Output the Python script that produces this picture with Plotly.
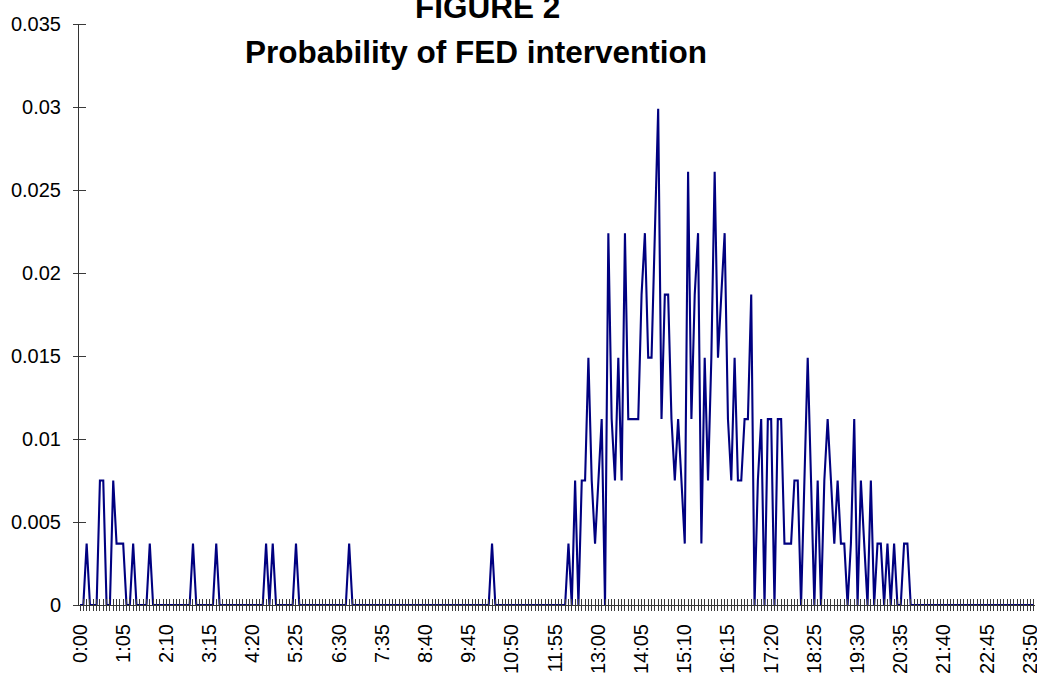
import plotly.graph_objects as go

# 5-minute time slots across the day (categories)
times = [f"{m // 60}:{m % 60:02d}" for m in range(0, 24 * 60, 5)]

# labelled categories on the x axis
tick_labels = ["0:00", "1:05", "2:10", "3:15", "4:20", "5:25", "6:30", "7:35",
               "8:40", "9:45", "10:50", "11:55", "13:00", "14:05", "15:10",
               "16:15", "17:20", "18:25", "19:30", "20:35", "21:40", "22:45",
               "23:50"]

y_tick_vals = [0, 0.005, 0.01, 0.015, 0.02, 0.025, 0.03, 0.035]
y_tick_text = ["0", "0.005", "0.01", "0.015", "0.02", "0.025", "0.03", "0.035"]

# probability of FED intervention per 5-minute slot (12 slots per hour row)
probability = [
    0, 0, 0.0037, 0, 0, 0, 0.0075, 0.0075, 0, 0, 0.0075, 0.0037,          # 0h
    0.0037, 0.0037, 0, 0, 0.0037, 0, 0, 0, 0, 0.0037, 0, 0,              # 1h
    0, 0, 0, 0, 0, 0, 0, 0, 0, 0, 0.0037, 0,                             # 2h
    0, 0, 0, 0, 0, 0.0037, 0, 0, 0, 0, 0, 0,                             # 3h
    0, 0, 0, 0, 0, 0, 0, 0, 0.0037, 0, 0.0037, 0,                        # 4h
    0, 0, 0, 0, 0, 0.0037, 0, 0, 0, 0, 0, 0,                             # 5h
    0, 0, 0, 0, 0, 0, 0, 0, 0, 0.0037, 0, 0,                             # 6h
    0, 0, 0, 0, 0, 0, 0, 0, 0, 0, 0, 0,                                  # 7h
    0, 0, 0, 0, 0, 0, 0, 0, 0, 0, 0, 0,                                  # 8h
    0, 0, 0, 0, 0, 0, 0, 0, 0, 0, 0, 0,                                  # 9h
    0, 0, 0, 0, 0.0037, 0, 0, 0, 0, 0, 0, 0,                             # 10h
    0, 0, 0, 0, 0, 0, 0, 0, 0, 0, 0, 0,                                  # 11h
    0, 0, 0, 0.0037, 0, 0.0075, 0, 0.0075, 0.0075, 0.0149, 0.0075, 0.0037,  # 12h
    0.0075, 0.0112, 0, 0.0224, 0.0112, 0.0075, 0.0149, 0.0075, 0.0224, 0.0112, 0.0112, 0.0112,  # 13h
    0.0112, 0.0187, 0.0224, 0.0149, 0.0149, 0.0224, 0.0299, 0.0112, 0.0187, 0.0187, 0.0112, 0.0075,  # 14h
    0.0112, 0.0075, 0.0037, 0.0261, 0.0112, 0.0187, 0.0224, 0.0037, 0.0149, 0.0075, 0.0149, 0.0261,  # 15h
    0.0149, 0.0187, 0.0224, 0.0112, 0.0075, 0.0149, 0.0075, 0.0075, 0.0112, 0.0112, 0.0187, 0,  # 16h
    0.0075, 0.0112, 0, 0.0112, 0.0112, 0, 0.0112, 0.0112, 0.0037, 0.0037, 0.0037, 0.0075,  # 17h
    0.0075, 0, 0.0075, 0.0149, 0.0075, 0, 0.0075, 0, 0.0075, 0.0112, 0.0075, 0.0037,  # 18h
    0.0075, 0.0037, 0.0037, 0, 0.0037, 0.0112, 0, 0.0075, 0.0037, 0, 0.0075, 0,  # 19h
    0.0037, 0.0037, 0, 0.0037, 0, 0.0037, 0, 0, 0.0037, 0.0037, 0, 0,    # 20h
    0, 0, 0, 0, 0, 0, 0, 0, 0, 0, 0, 0,                                  # 21h
    0, 0, 0, 0, 0, 0, 0, 0, 0, 0, 0, 0,                                  # 22h
    0, 0, 0, 0, 0, 0, 0, 0, 0, 0, 0, 0,                                  # 23h
]

x_tick_text = [t if t in tick_labels else "" for t in times]
x_range = [-0.3, len(times) - 0.6]

FONT = "Liberation Sans, Arial, sans-serif"
AXIS_COLOR = "#333333"
TICK_COLOR = "#3a3a3a"

fig = go.Figure()
fig.add_trace(go.Scatter(
    x=times, y=probability, mode="lines",
    line=dict(color="#000080", width=2.1),
    showlegend=False, hoverinfo="x+y",
))
# empty helper trace so that the overlaid axis carrying the inner tick marks is drawn
fig.add_trace(go.Scatter(x=[None], y=[None], xaxis="x2", yaxis="y", mode="lines",
                         showlegend=False, hoverinfo="skip"))

fig.update_layout(
    template="none",
    showlegend=False,
    width=1037, height=680, autosize=False,
    margin=dict(l=79, r=2, t=24, b=75, pad=0),
    paper_bgcolor="white", plot_bgcolor="white",
    font=dict(family=FONT, size=20, color="black"),
    xaxis=dict(
        type="category", categoryorder="array", categoryarray=times,
        range=x_range, tickmode="array", tickvals=times, ticktext=x_tick_text,
        tickangle=-90, ticks="outside", ticklen=5, tickwidth=1,
        tickcolor=TICK_COLOR, showline=True, linecolor=AXIS_COLOR, linewidth=1,
        showgrid=False, zeroline=False, ticklabelstandoff=5, automargin=False,
        tickfont=dict(family=FONT, size=20, color="black"),
    ),
    xaxis2=dict(
        overlaying="x", anchor="y", side="bottom", type="linear",
        range=x_range, tickmode="linear", tick0=0, dtick=1,
        ticks="inside", ticklen=6, tickwidth=1, tickcolor=TICK_COLOR,
        showticklabels=False, showgrid=False, zeroline=False, showline=False,
        automargin=False,
    ),
    yaxis=dict(
        range=[0, 0.035], tickmode="array", tickvals=y_tick_vals,
        ticktext=y_tick_text, ticks="outside", ticklen=5, tickwidth=1,
        tickcolor=TICK_COLOR, showline=True, linecolor=AXIS_COLOR, linewidth=1,
        showgrid=False, zeroline=False, ticklabelstandoff=8, automargin=False,
        tickfont=dict(family=FONT, size=20, color="black"),
        minor=dict(ticks="inside", ticklen=7, tickwidth=1, tickcolor=TICK_COLOR,
                   tickmode="array", tickvals=y_tick_vals, showgrid=False),
    ),
    annotations=[
        dict(text="<b>FIGURE 2</b>", xref="paper", yref="paper",
             x=(487.5 - 79) / 956, y=(605 - 7) / 581, xanchor="center",
             yanchor="middle", showarrow=False,
             font=dict(family=FONT, size=31.5, color="black")),
        dict(text="<b>Probability of FED intervention</b>", xref="paper",
             yref="paper", x=(476 - 79) / 956, y=(605 - 52) / 581,
             xanchor="center", yanchor="middle", showarrow=False,
             font=dict(family=FONT, size=31.5, color="black")),
    ],
)

fig.write_html("out.html", post_script="document.body.style.margin='0';",
               config={"displayModeBar": False})
